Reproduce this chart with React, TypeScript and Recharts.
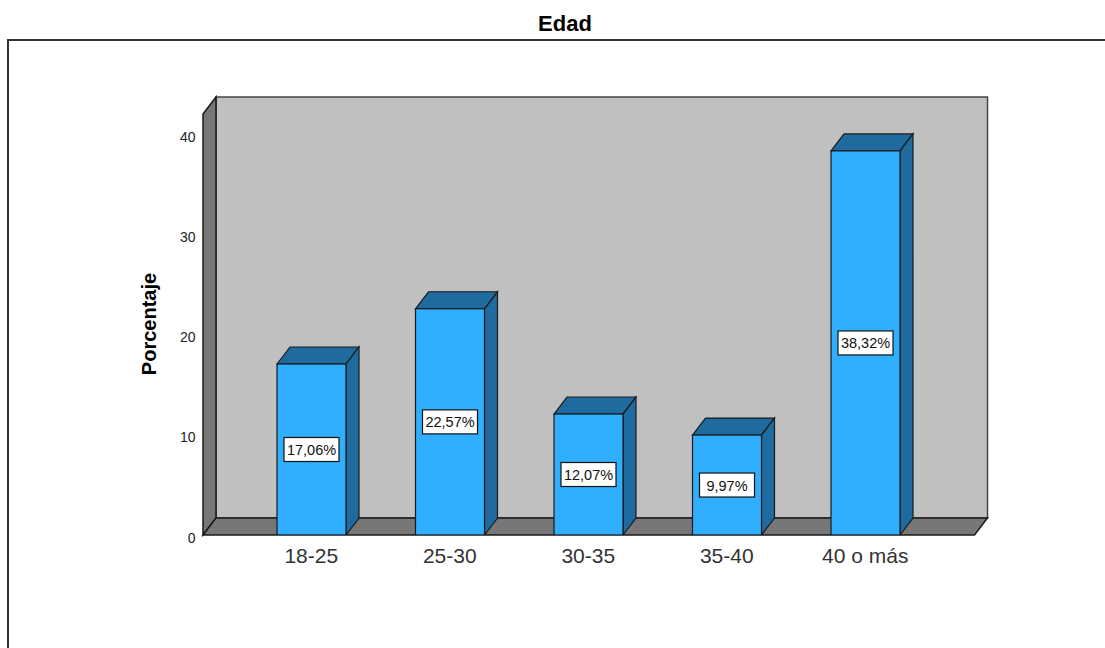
import React from 'react';
import { BarChart, Bar, XAxis, YAxis, ReferenceArea, LabelList, Customized } from 'recharts';

const categories = ['18-25', '25-30', '30-35', '35-40', '40 o más'];
const percentages = [17.06, 22.57, 12.07, 9.97, 38.32];
const yTicks = [0, 10, 20, 30, 40];
const yMax = 42;

const data = categories.map((c, i) => ({ name: c, value: percentages[i] }));

const DX = 13;
const DY = 17;
const PAD_L = 39;
const PAD_R = 40;

const FRONT = '#30AFFF';
const SIDE = '#1F6A9E';
const WALL = '#C0C0C0';
const DARK = '#777777';
const LINE = '#1a1a1a';

const fmt = (v: number) => v.toFixed(2).replace('.', ',') + '%';

const Walls = (props: any) => {
  const { x, y, width, height } = props;
  const l = x - PAD_L;
  const r = x + width + PAD_R;
  const t = y;
  const b = y + height;
  return (
    <g>
      <polygon
        points={`${l + DX},${t - DY} ${r + DX},${t - DY} ${r + DX},${b - DY} ${l + DX},${b - DY}`}
        fill={WALL}
        stroke="#444"
        strokeWidth={1.5}
      />
      <polygon
        points={`${l},${t} ${l + DX},${t - DY} ${l + DX},${b - DY} ${l},${b}`}
        fill={DARK}
        stroke={LINE}
        strokeWidth={1.5}
      />
      <polygon
        points={`${l},${b} ${l + DX},${b - DY} ${r + DX},${b - DY} ${r},${b}`}
        fill={DARK}
        stroke={LINE}
        strokeWidth={1.5}
      />
    </g>
  );
};

const Bar3D = (props: any) => {
  const { x, y, width, height } = props;
  if (width == null || height == null) return null;
  const r = x + width;
  const b = y + height;
  return (
    <g>
      <polygon
        points={`${x},${y} ${x + DX},${y - DY} ${r + DX},${y - DY} ${r},${y}`}
        fill={SIDE}
        stroke={LINE}
        strokeWidth={1.2}
      />
      <polygon
        points={`${r},${y} ${r + DX},${y - DY} ${r + DX},${b - DY} ${r},${b}`}
        fill={SIDE}
        stroke={LINE}
        strokeWidth={1.2}
      />
      <rect x={x} y={y} width={width} height={height} fill={FRONT} stroke={LINE} strokeWidth={1.2} />
    </g>
  );
};

const BoxLabel = (props: any) => {
  const vb = props.viewBox || props;
  const { x, y, width, height } = vb;
  const cx = x + width / 2;
  const cy = y + height / 2;
  const w = 55;
  const h = 24;
  return (
    <g>
      <rect x={cx - w / 2} y={cy - h / 2} width={w} height={h} fill="#ffffff" stroke="#111" strokeWidth={1.2} />
      <text
        x={cx}
        y={cy + 5.5}
        textAnchor="middle"
        fontFamily="'Liberation Sans', Arial, sans-serif"
        fontSize={14.5}
        fill="#111"
      >
        {fmt(props.value)}
      </text>
    </g>
  );
};

const YTick = (props: any) => {
  const { x, y, payload } = props;
  return (
    <text
      x={x + 0.5}
      y={y + 7.5}
      textAnchor="end"
      fontFamily="'Liberation Sans', Arial, sans-serif"
      fontSize={14}
      fill="#222"
    >
      {payload.value}
    </text>
  );
};

const XTick = (props: any) => {
  const { x, y, payload } = props;
  return (
    <text
      x={x}
      y={y + 20}
      textAnchor="middle"
      fontFamily="'Liberation Sans', Arial, sans-serif"
      fontSize={21}
      fill="#333"
    >
      {payload.value}
    </text>
  );
};

const Decor = () => (
  <g>
    <path d="M 8 700 L 8 40 L 1200 40" fill="none" stroke="#333" strokeWidth={2} />
    <text
      x={565}
      y={31}
      textAnchor="middle"
      fontFamily="'Liberation Sans', Arial, sans-serif"
      fontWeight="bold"
      fontSize={22}
      fill="#000"
    >
      Edad
    </text>
    <text
      x={0}
      y={0}
      transform="translate(155.5, 324) rotate(-90)"
      textAnchor="middle"
      fontFamily="'Liberation Sans', Arial, sans-serif"
      fontWeight="bold"
      fontSize={20}
      fill="#000"
    >
      Porcentaje
    </text>
  </g>
);

export default function App() {
  return (
    <div style={{ position: 'absolute', left: 0, top: 0, width: 1105, height: 648, overflow: 'hidden', background: '#fff' }}>
      <BarChart
        width={1105}
        height={648}
        data={data}
        margin={{ top: 114, right: 130.5, bottom: 73, left: 143 }}
      >
        <XAxis
          dataKey="name"
          axisLine={false}
          tickLine={false}
          padding={{ left: PAD_L, right: PAD_R }}
          height={40}
          tick={<XTick />}
          interval={0}
        />
        <YAxis
          domain={[0, yMax]}
          ticks={yTicks}
          axisLine={false}
          tickLine={false}
          width={60}
          tick={<YTick />}
          allowDataOverflow
        />
        <ReferenceArea y1={0} y2={yMax} shape={Walls} ifOverflow="visible" />
        <Bar dataKey="value" barSize={69} shape={Bar3D} isAnimationActive={false}>
          <LabelList dataKey="value" content={BoxLabel} />
        </Bar>
        <Customized component={Decor} />
      </BarChart>
    </div>
  );
}
